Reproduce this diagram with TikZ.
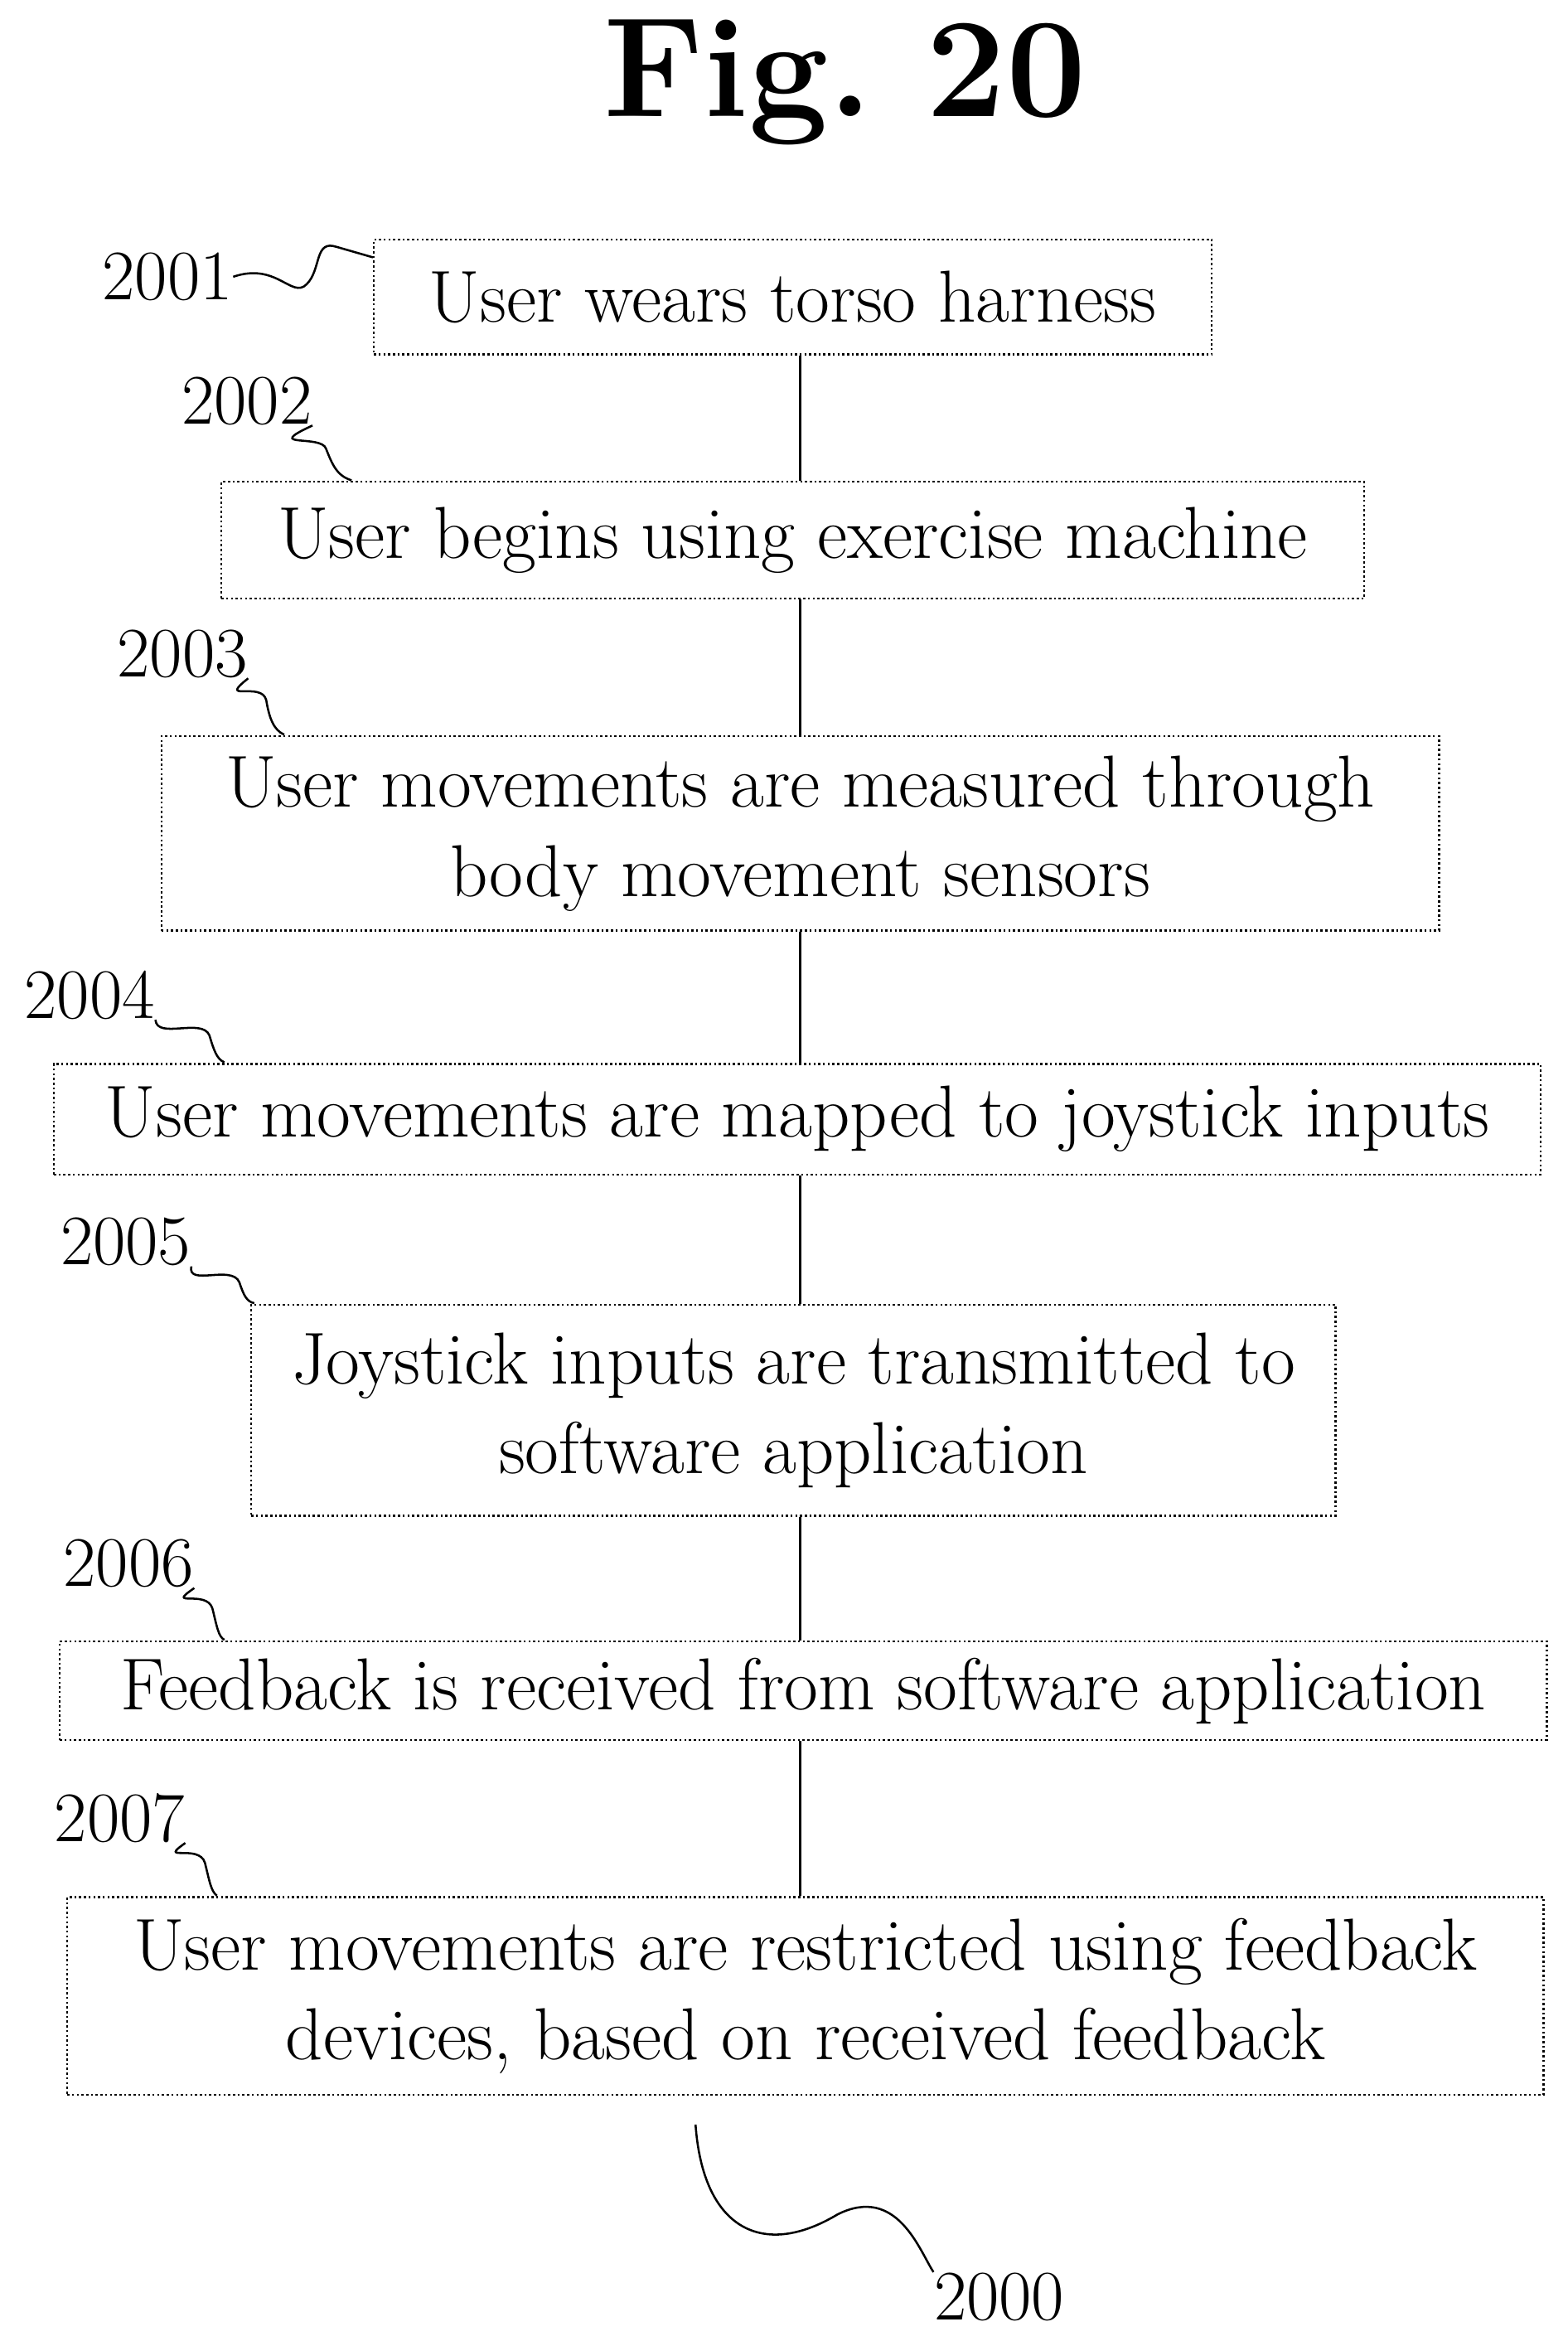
\documentclass[tikz,border=0pt]{standalone}
\usetikzlibrary{positioning}
\tikzset{stepbox/.style={draw, thick, densely dotted, inner sep=0pt, align=center,
  font=\fontsize{28}{34}\selectfont},
  refnum/.style={font=\fontsize{27}{30}\selectfont, inner sep=0pt},
  squig/.style={thick}}
\newcommand\stepnode[6]{% name x1 x2 y1 y2 text
  \node[stepbox, minimum width=(#3-#2)*0.02cm, minimum height=(#5-#4)*0.02cm]
    (#1) at ({(#2+#3)/2},{(#4+#5)/2}) {#6};}
\begin{document}
\begin{tikzpicture}[x=0.02cm, y=-0.02cm]
  \useasboundingbox (0,0) rectangle (1048,1568);
  \node[font=\fontsize{54}{54}\selectfont\bfseries\rmfamily] (title) at (565,55) {Fig.~20};
  % steps
  \stepnode{s1}{250}{810}{160}{237}{User wears torso harness}
  \stepnode{s2}{148}{912}{322}{400}{User begins using exercise machine}
  \stepnode{s3}{108}{962}{492}{622}{User movements are measured through\\body movement sensors}
  \stepnode{s4}{36}{1030}{711}{785}{User movements are mapped to joystick inputs}
  \stepnode{s5}{168}{893}{872}{1013}{Joystick inputs are transmitted to\\software application}
  \stepnode{s6}{40}{1034}{1097}{1163}{Feedback is received from software application}
  \stepnode{s7}{45}{1032}{1268}{1400}{User movements are restricted using feedback\\devices, based on received feedback}
  % connectors
  \foreach \a/\b in {s1/s2,s2/s3,s3/s4,s4/s5,s5/s6,s6/s7}
    \draw[thick] (\a.south -| 535,0) -- (\b.north -| 535,0);
  % reference numerals
  \node[refnum] (n1) at (112,185) {2001};
  \node[refnum] (n2) at (165,268) {2002};
  \node[refnum] (n3) at (122,437) {2003};
  \node[refnum] (n4) at (60,665) {2004};
  \node[refnum] (n5) at (84,830) {2005};
  \node[refnum] (n6) at (86,1045) {2006};
  \node[refnum] (n7) at (80,1215) {2007};
  \node[refnum] (n0) at (668,1535) {2000};
  \draw[squig] (n1.east) .. controls (185,175) and (195,200) .. (205,190)
    .. controls (215,180) and (210,160) .. (225,165) -- (s1.west |- 0,172);
  \draw[squig] (n2.south east) .. controls (175,300) and (215,290) .. (218,300)
    .. controls (222,310) and (225,318) .. (235,321);
  \draw[squig] (n3.south east) .. controls (145,470) and (175,455) .. (178,468)
    .. controls (180,480) and (183,488) .. (190,491);
  \draw[squig] (n4.south east) .. controls (105,695) and (135,680) .. (140,692)
    .. controls (143,702) and (145,708) .. (150,710);
  \draw[squig] (n5.south east) .. controls (125,860) and (155,845) .. (160,857)
    .. controls (163,866) and (165,870) .. (170,871);
  \draw[squig] (n6.south east) .. controls (110,1075) and (138,1062) .. (142,1075)
    .. controls (145,1087) and (146,1094) .. (150,1096);
  \draw[squig] (n7.south east) .. controls (105,1245) and (133,1232) .. (137,1245)
    .. controls (140,1257) and (141,1264) .. (145,1267);
  \draw[squig] (465,1420) .. controls (470,1490) and (510,1510) .. (560,1480)
    .. controls (600,1460) and (615,1505) .. (n0.north west);
\end{tikzpicture}
\end{document}
